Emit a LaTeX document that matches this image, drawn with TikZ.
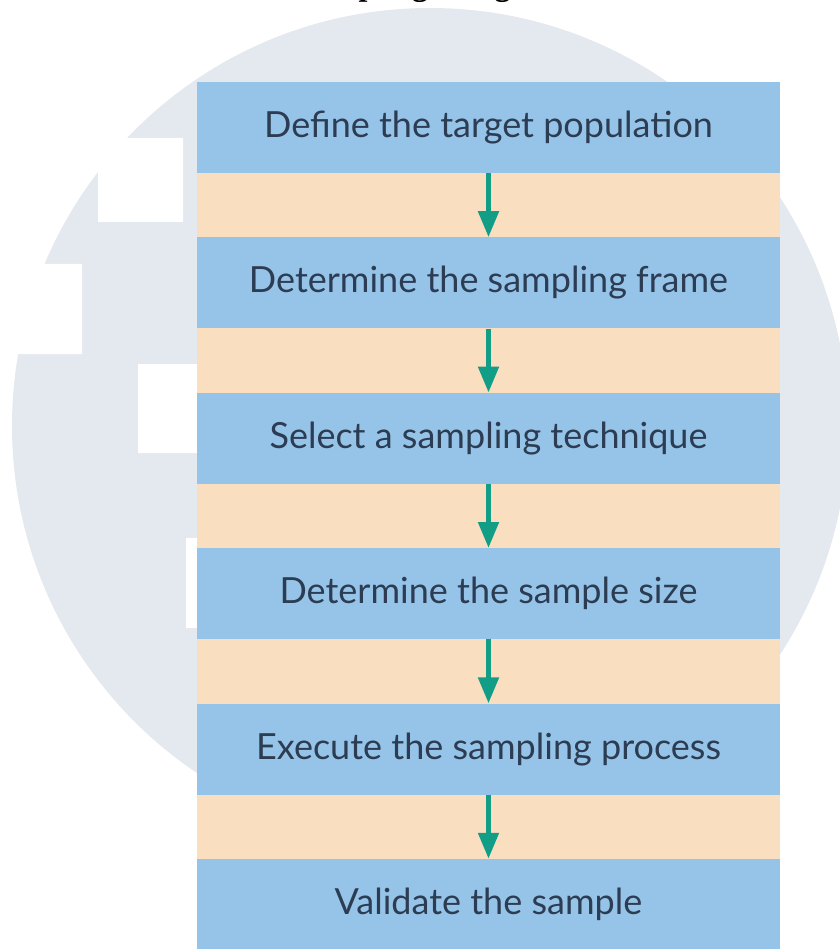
\documentclass[tikz,border=0pt]{standalone}
\usepackage{fontspec}
\newfontfamily\stepfont{Lato}
\newfontfamily\titlefont{Liberation Serif}
\usetikzlibrary{positioning, arrows.meta}
\definecolor{stepblue}{RGB}{150,196,232}
\definecolor{bandpeach}{RGB}{250,222,192}
\definecolor{arrowteal}{RGB}{18,158,134}
\definecolor{markgray}{RGB}{228,232,239}
\definecolor{steptext}{RGB}{44,60,82}

\begin{document}
\begin{tikzpicture}[x=1pt,y=-1pt,node distance=155.4pt,on grid,
    stage/.style={rectangle,fill=stepblue,minimum width=583pt,minimum height=91pt,
      inner sep=0pt,text=steptext,font=\stepfont\fontsize{36}{40}\selectfont,
      text height=28pt,text depth=8pt},
    flow/.style={color=arrowteal,line width=5pt,-{Triangle[length=26pt,width=20pt]}}]

  \useasboundingbox (0,0) rectangle (839,949);
  \fill[markgray] (430,426) circle (418pt);
  \fill[white] (98,138) rectangle (183,222) (0,264) rectangle (82,354)
               (138,364) rectangle (197,453) (186,538) rectangle (197,628);
  \node[anchor=base west,inner sep=0pt,font=\titlefont\bfseries\fontsize{32}{36}\selectfont]
    (title) at (298,-4) {Sampling Design};

  \fill[bandpeach] (197,82) rectangle (780,949);

  \node[stage] (s1) at (488.5,127.5) {Define the target population};
  \node[stage] (s2) [below=of s1] {Determine the sampling frame};
  \node[stage] (s3) [below=of s2] {Select a sampling technique};
  \node[stage] (s4) [below=of s3] {Determine the sample size};
  \node[stage] (s5) [below=of s4] {Execute the sampling process};
  \node[stage] (s6) [below=of s5] {Validate the sample};

  \path[flow] (s1) edge (s2)
              (s2) edge (s3)
              (s3) edge (s4)
              (s4) edge (s5)
              (s5) edge (s6);
\end{tikzpicture}
\end{document}
